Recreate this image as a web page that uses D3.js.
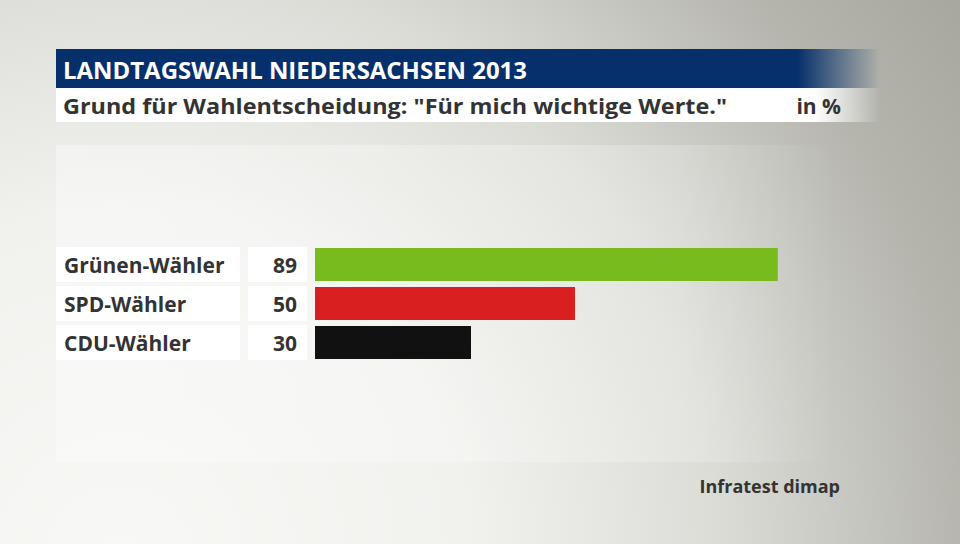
<!DOCTYPE html>
<html><head><meta charset="utf-8">
<script src="https://cdn.jsdelivr.net/npm/d3@7"></script>
<style>body{margin:0;}svg{display:block;}</style>
</head><body>
<script>
const categories = ["Grünen-Wähler", "SPD-Wähler", "CDU-Wähler"];
const values = [89, 50, 30];
const colors = ["#78bb1d", "#d91f1f", "#111111"];
const title = "LANDTAGSWAHL NIEDERSACHSEN 2013";
const subtitle = "Grund für Wahlentscheidung: \"Für mich wichtige Werte.\"";
const unit = "in %";
const source = "Infratest dimap";

const W = 960, H = 544;
const svg = d3.select("body").append("svg").attr("width", W).attr("height", H);
const defs = svg.append("defs");

const bg = defs.append("radialGradient").attr("id", "bg")
  .attr("gradientUnits", "userSpaceOnUse")
  .attr("cx", 120).attr("cy", 560).attr("r", 1000);
bg.append("stop").attr("offset", "0").attr("stop-color", "#f8f9f6");
bg.append("stop").attr("offset", "0.35").attr("stop-color", "#f1f2ee");
bg.append("stop").attr("offset", "0.6").attr("stop-color", "#dcdcd7");
bg.append("stop").attr("offset", "0.85").attr("stop-color", "#b5b5ae");
bg.append("stop").attr("offset", "1").attr("stop-color", "#a8a8a0");
svg.append("rect").attr("width", W).attr("height", H).attr("fill", "url(#bg)");

// lighter panel
const pg = defs.append("linearGradient").attr("id", "panel").attr("x1", 0).attr("x2", 1);
pg.append("stop").attr("offset", "0").attr("stop-color", "#ffffff").attr("stop-opacity", 0.35);
pg.append("stop").attr("offset", "0.8").attr("stop-color", "#ffffff").attr("stop-opacity", 0.2);
pg.append("stop").attr("offset", "1").attr("stop-color", "#ffffff").attr("stop-opacity", 0);
svg.append("rect").attr("x", 56).attr("y", 145).attr("width", 780).attr("height", 317).attr("fill", "url(#panel)");

// title band
const tg = defs.append("linearGradient").attr("id", "tband").attr("x1", 0).attr("x2", 1);
tg.append("stop").attr("offset", "0").attr("stop-color", "#06306b");
tg.append("stop").attr("offset", "0.9").attr("stop-color", "#06306b");
tg.append("stop").attr("offset", "1").attr("stop-color", "#06306b").attr("stop-opacity", 0);
svg.append("rect").attr("x", 56).attr("y", 49).attr("width", 824).attr("height", 39).attr("fill", "url(#tband)");

const sg = defs.append("linearGradient").attr("id", "sband").attr("x1", 0).attr("x2", 1);
sg.append("stop").attr("offset", "0").attr("stop-color", "#ffffff");
sg.append("stop").attr("offset", "0.92").attr("stop-color", "#ffffff");
sg.append("stop").attr("offset", "1").attr("stop-color", "#ffffff").attr("stop-opacity", 0);
svg.append("rect").attr("x", 56).attr("y", 88).attr("width", 824).attr("height", 34).attr("fill", "url(#sband)");

const font = "'Open Sans', 'Noto Sans', sans-serif";
const ink = "#333333";
svg.append("text").attr("x", 63).attr("y", 79).attr("fill", "#fff")
  .attr("font-family", font).attr("font-weight", 700).attr("font-size", 23)
  .attr("textLength", 464).attr("lengthAdjust", "spacingAndGlyphs").text(title);
svg.append("text").attr("x", 63).attr("y", 114).attr("fill", ink)
  .attr("font-family", font).attr("font-weight", 700).attr("font-size", 21)
  .attr("textLength", 664).attr("lengthAdjust", "spacingAndGlyphs").text(subtitle);
svg.append("text").attr("x", 841).attr("y", 114).attr("fill", ink).attr("text-anchor", "end")
  .attr("font-family", font).attr("font-weight", 700).attr("font-size", 21).text(unit);

const x = d3.scaleLinear().domain([0, 100]).range([315, 835]);
const y = d3.scaleBand().domain(categories).range([248, 359]).paddingInner(6 / 39).paddingOuter(0);

const rows = svg.selectAll("g.row").data(categories).enter().append("g").attr("class", "row");
rows.append("rect").attr("x", 56).attr("y", d => y(d) - 1).attr("width", 184).attr("height", y.bandwidth() + 2).attr("fill", "#fff");
rows.append("rect").attr("x", 248).attr("y", d => y(d) - 1).attr("width", 59).attr("height", y.bandwidth() + 2).attr("fill", "#fff");
rows.append("text").attr("x", 64).attr("y", d => y(d) + y.bandwidth() / 2 + 8)
  .attr("font-family", font).attr("font-weight", 700).attr("font-size", 21).attr("fill", ink).text(d => d);
rows.append("text").attr("x", 297).attr("y", d => y(d) + y.bandwidth() / 2 + 8).attr("text-anchor", "end")
  .attr("font-family", font).attr("font-weight", 700).attr("font-size", 21).attr("fill", ink)
  .text((d, i) => values[i]);
rows.append("rect").attr("x", x(0)).attr("y", d => y(d))
  .attr("width", (d, i) => x(values[i]) - x(0)).attr("height", y.bandwidth())
  .attr("fill", (d, i) => colors[i]);

svg.append("text").attr("x", 840).attr("y", 493).attr("text-anchor", "end")
  .attr("font-family", font).attr("font-weight", 700).attr("font-size", 18).attr("fill", ink).text(source);
</script>
</body></html>
